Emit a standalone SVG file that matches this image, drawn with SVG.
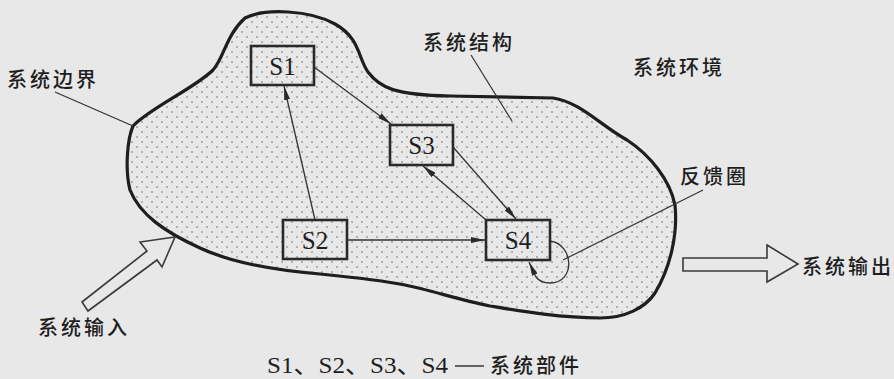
<svg xmlns="http://www.w3.org/2000/svg" width="894" height="379" viewBox="0 0 894 379">
<style>
.cjk{font-family:"Noto Sans CJK SC","Liberation Sans",sans-serif;font-size:20px;font-weight:500;fill:#1e1e1e;letter-spacing:3px}
.lbl{font-family:"Liberation Serif",serif;font-size:25px;fill:#1e1e1e;text-anchor:middle}
.box{fill:none;stroke:#2a2a2a;stroke-width:2.6}
.con{fill:none;stroke:#333;stroke-width:1.3}
.lead{fill:none;stroke:#333;stroke-width:1.2}
.hollow{fill:#e8e8e8;stroke:#3a3a3a;stroke-width:1.6;stroke-linejoin:miter}
</style>
<defs>
<pattern id="dots" width="10" height="10" patternUnits="userSpaceOnUse">
<circle cx="2" cy="2" r="0.8" fill="#6a6a6a"/>
<circle cx="7" cy="7" r="0.8" fill="#6a6a6a"/>
</pattern>
<marker id="ah" viewBox="0 0 14 6" refX="14" refY="3" markerWidth="14" markerHeight="6" markerUnits="userSpaceOnUse" orient="auto">
<path d="M0,0 L14,3 L0,6 z" fill="#2a2a2a"/>
</marker>
</defs>
<rect width="894" height="379" fill="#e8e8e8"/>
<g id="system-boundary">
<path d="M133,126 C150,108 195,88 213,70 C224,58 226,35 245,18 C265,8 310,10 335,24 C360,38 358,58 368,72 C380,88 395,95 450,96 L553,98 C580,102 600,125 627,140 C650,155 670,180 675,205 C678,235 670,268 655,293 C645,308 625,318 600,318 C560,318 520,311 490,306 C460,300 430,290 405,285 C385,281 360,278 320,274 C270,270 230,262 200,248 C165,232 140,215 130,190 C125,170 127,140 133,126 Z" fill="url(#dots)" stroke="#1e1e1e" stroke-width="3.2"/>
</g>
<g id="connectors">
<line class="con" x1="315" y1="220" x2="284" y2="86" marker-end="url(#ah)"/>
<line class="con" x1="314" y1="67" x2="391" y2="124" marker-end="url(#ah)"/>
<line class="con" x1="453" y1="147" x2="516" y2="219" marker-end="url(#ah)"/>
<line class="con" x1="486" y1="220" x2="423" y2="166" marker-end="url(#ah)"/>
<line class="con" x1="347" y1="240" x2="485" y2="240" marker-end="url(#ah)"/>
<path class="con" d="M550,241 C574,244 576,283 550,283 C543,283 539,281 536,277 L529,262" marker-end="url(#ah)"/>
</g>
<g id="leaders">
<line class="lead" x1="55" y1="92" x2="133" y2="126"/>
<line class="lead" x1="471" y1="55" x2="512" y2="121"/>
<line class="lead" x1="703" y1="190" x2="563" y2="260"/>
</g>
<g id="S1"><rect class="box" x="251" y="46" width="63" height="39"/><text class="lbl" x="282.5" y="74.5">S1</text></g>
<g id="S2"><rect class="box" x="283" y="220" width="64" height="39"/><text class="lbl" x="315" y="248.5">S2</text></g>
<g id="S3"><rect class="box" x="390" y="125" width="63" height="40"/><text class="lbl" x="421.5" y="154">S3</text></g>
<g id="S4"><rect class="box" x="486" y="220" width="64" height="40"/><text class="lbl" x="518" y="249">S4</text></g>
<g id="input-arrow">
<polygon class="hollow" points="82,302 147,251 140,242 175,237 162,267 157,260 88,311"/>
</g>
<g id="output-arrow">
<polygon class="hollow" points="683,258 767,258 767,245 798,264 767,282 767,271 683,271"/>
</g>
<g id="labels">
<text class="cjk" x="7" y="87">系统边界</text>
<text class="cjk" x="423" y="50">系统结构</text>
<text class="cjk" x="633" y="75">系统环境</text>
<text class="cjk" x="680" y="184">反馈圈</text>
<text class="cjk" x="38" y="335">系统输入</text>
<text class="cjk" x="802" y="274">系统输出</text>
<text x="267" y="373" textLength="181" lengthAdjust="spacingAndGlyphs" style="font-family:'Liberation Serif','Noto Sans CJK SC',serif;font-size:23px;fill:#1e1e1e">S1、S2、S3、S4</text>
<line x1="455" y1="366" x2="484" y2="366" stroke="#1e1e1e" stroke-width="1.3"/>
<text class="cjk" x="490" y="373">系统部件</text>
</g>
</svg>
